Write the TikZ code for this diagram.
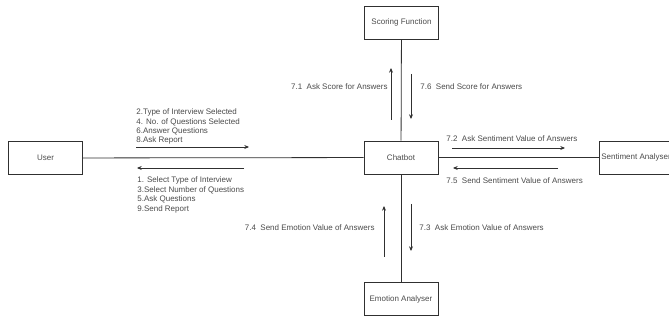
\documentclass[tikz,border=0pt]{standalone}
\usepackage{fontspec}
\setmainfont{Liberation Sans}
\usepackage{tikz}
\usetikzlibrary{arrows.meta,positioning}
\definecolor{noir}{HTML}{303030}
\definecolor{gris}{HTML}{4A4A4A}

\begin{document}
\begin{tikzpicture}[x=0.75pt,y=-0.75pt,font=\fontsize{6}{7.1}\selectfont,line width=0.6pt,
  box/.style={draw=noir,minimum width=55.5pt,minimum height=24.75pt,inner sep=0pt,text=gris},
  msg/.style={noir,-{Stealth[length=3.5pt,width=3pt]}},
  lbl/.style={text=gris,inner sep=0pt,align=left}]
  \useasboundingbox (0,0) rectangle (669,320);
  % boxes
  \node[box] (user) at (45.5,158) {User};
  \node[box] (chatbot) at (401,157.5) {Chatbot};
  \node[box] (scoring) at (401.5,22.5) {Scoring Function};
  \node[box] (emotion) at (401,299) {Emotion Analyser};
  \node[box] (sentiment) at (636,157.5) {Sentiment Analyser};
  \draw[noir] (user) -- (chatbot);
  \draw[noir] (chatbot) -- (sentiment);
  \draw[noir] (chatbot) -- (scoring);
  \draw[noir] (chatbot) -- (emotion);
  % message arrows
  \coordinate (u1) at (136,147); \coordinate (u2) at (249,147);
  \coordinate (u3) at (244,168); \coordinate (u4) at (137,168);
  \coordinate (s1) at (391,120); \coordinate (s2) at (391,68);
  \coordinate (s3) at (411,74);  \coordinate (s4) at (411,119);
  \coordinate (t1) at (452,148); \coordinate (t2) at (565,148);
  \coordinate (t3) at (558,168); \coordinate (t4) at (453,168);
  \coordinate (e1) at (384,257); \coordinate (e2) at (384,206);
  \coordinate (e3) at (411,204); \coordinate (e4) at (411,251);
  \foreach \a/\b in {u1/u2,u3/u4,s1/s2,s3/s4,t1/t2,t3/t4,e1/e2,e3/e4}
    \draw[msg] (\a) -- (\b);
  % labels
  \node[lbl,anchor=south west] (userout) at (136,145) {2.Type of Interview Selected\\4. No. of Questions Selected\\6.Answer Questions\\8.Ask Report};
  \node[lbl,anchor=north west] (userin) at (137,176.5) {1. Select Type of Interview\\3.Select Number of Questions\\5.Ask Questions\\9.Send Report};
  \node[lbl,anchor=east] (askscore) at (388,87) {7.1~~Ask Score for Answers};
  \node[lbl,anchor=west] (sendscore) at (420,87) {7.6~~Send Score for Answers};
  \node[lbl,anchor=west] (asksent) at (446,139) {7.2~~Ask Sentiment Value of Answers};
  \node[lbl,anchor=west] (sendsent) at (446,181) {7.5~~Send Sentiment Value of Answers};
  \node[lbl,anchor=west] (askemo) at (419,228) {7.3~~Ask Emotion Value of Answers};
  \node[lbl,anchor=east] (sendemo) at (375,228) {7.4~~Send Emotion Value of Answers};
\end{tikzpicture}
\end{document}
